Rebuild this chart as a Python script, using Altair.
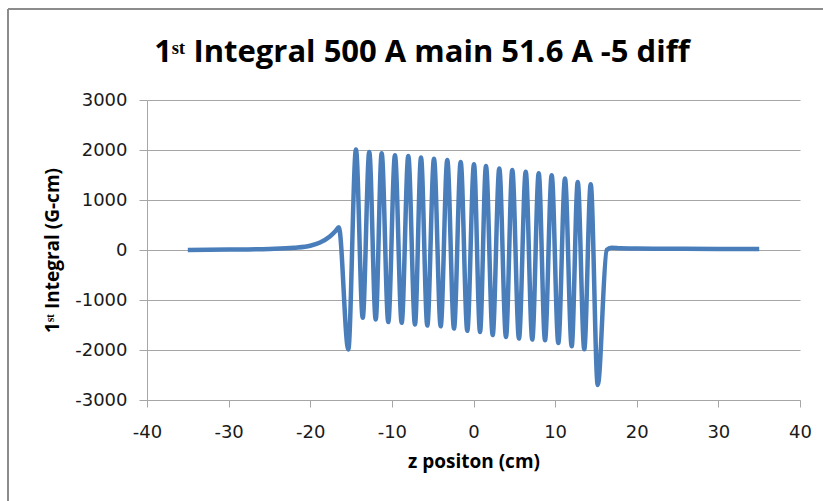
import altair as alt
import pandas as pd

# z position (cm) and 1st integral (G-cm)
z_cm = [-35, -30, -25, -22, -20, -18.8, -17.6, -16.9, -16.5,
        -15.34, -14.40, -13.57, -12.77, -11.98, -11.25, -10.44, -9.62, -8.80, -7.99,
        -7.17, -6.43, -5.66, -4.84, -4.02, -3.21, -2.39, -1.57, -0.76, 0.06,
        0.80, 1.53, 2.35, 3.16, 3.98, 4.75, 5.57, 6.40, 7.20, 7.99,
        8.76, 9.58, 10.39, 11.21, 12.03, 12.77, 13.57, 14.36, 15.22, 16.32,
        16.9, 18, 20, 25, 30, 35]
integral = [0, 8, 22, 45, 85, 150, 270, 380, 455,
            -1990, 2010, -1355, 1960, -1390, 1935, -1440, 1895, -1455, 1880,
            -1490, 1850, -1510, 1825, -1525, 1800, -1570, 1760, -1615, 1715,
            -1640, 1680, -1700, 1630, -1740, 1600, -1770, 1565, -1790, 1535,
            -1805, 1495, -1860, 1430, -1925, 1360, -1985, 1315, -2700, 0,
            45, 35, 30, 25, 22, 22]

x_ticks = [-40, -30, -20, -10, 0, 10, 20, 30, 40]
y_ticks = [-3000, -2000, -1000, 0, 1000, 2000, 3000]

title_text = "1ˢᵗ Integral 500 A main 51.6 A -5 diff"
x_title = "z positon (cm)"
y_title = "1ˢᵗ Integral (G-cm)"

df = pd.DataFrame({"z": z_cm, "I": integral})
one = pd.DataFrame({"k": [0]})

grid_col = "#a6a6a6"
label_font = "DejaVu Sans"
title_font = "Open Sans"
plain_label = "datum.value + ''"

line = alt.Chart(df).mark_line(
    color="#4a7ebb", strokeWidth=4.5, interpolate="monotone"
).encode(
    x=alt.X("z:Q",
            scale=alt.Scale(domain=[-40, 40], nice=False, zero=False),
            axis=alt.Axis(values=x_ticks, title=x_title, grid=False, labelExpr=plain_label,
                          domainColor=grid_col, tickColor=grid_col, tickSize=7,
                          labelFont=label_font, labelFontSize=18, labelColor="#1a1a1a",
                          labelPadding=16, labelFlush=False,
                          titleFont=title_font, titleFontSize=19, titleFontWeight="bold",
                          titleColor="#000000", titleY=67, titleBaseline="alphabetic")),
    y=alt.Y("I:Q",
            scale=alt.Scale(domain=[-3000, 3000], nice=False),
            axis=alt.Axis(values=y_ticks, title=y_title, grid=True, gridColor=grid_col,
                          labelExpr=plain_label,
                          domainColor=grid_col, tickColor=grid_col, tickSize=8,
                          labelFont=label_font, labelFontSize=18, labelColor="#1a1a1a",
                          labelPadding=12, labelFlush=False,
                          titleFont=title_font, titleFontSize=19, titleFontWeight="bold",
                          titleColor="#000000", titleAngle=-90, titleX=-95, titleY=150,
                          titleAlign="center", titleBaseline="middle")),
)

title = alt.Chart(one).mark_text(
    text=title_text, font=title_font, fontSize=31, fontWeight="bold",
    align="center", baseline="alphabetic", color="#000000"
).encode(x=alt.value(275), y=alt.value(-38))

frame_left = alt.Chart(one).mark_rule(color="#8c8c8c", strokeWidth=2).encode(
    x=alt.value(-139), y=alt.value(-91), y2=alt.value(420))
frame_top = alt.Chart(one).mark_rule(color="#8c8c8c", strokeWidth=2).encode(
    x=alt.value(-139), x2=alt.value(700), y=alt.value(-91))

chart = alt.layer(frame_left, frame_top, line, title).properties(
    width=653, height=300,
    autosize=alt.AutoSizeParams(type="none"),
    padding={"left": 147, "top": 100, "right": 23, "bottom": 101},
    background="white",
).configure_view(stroke=None)

chart.save("out.html", embed_options={"renderer": "svg", "actions": False})
